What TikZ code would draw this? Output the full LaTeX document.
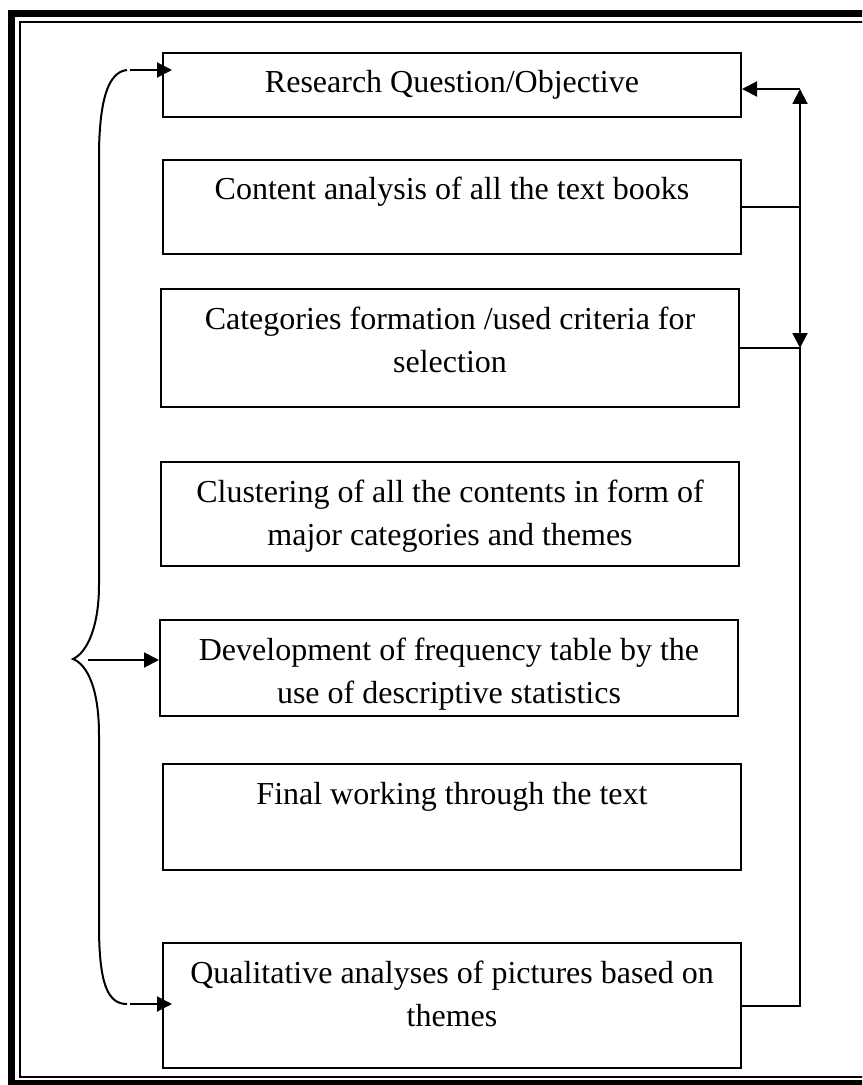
\documentclass[tikz,border=0pt]{standalone}
\usepackage{fontspec}
\setmainfont{Liberation Serif}
\usetikzlibrary{arrows.meta}
\begin{document}
\begin{tikzpicture}[x=0.5pt,y=-0.5pt]
\tikzset{
    stageBox/.style={rectangle,draw=black,line width=1pt,anchor=north,text width=280pt,inner xsep=4.5pt,inner ysep=0pt,align=flush center,text height=20pt,font=\fontsize{16}{21.5}\selectfont},
    stageArrow/.style={line width=1pt,-{Triangle[length=7.5pt,width=7.5pt]}},
    stageLink/.style={line width=1pt},
}
\useasboundingbox (0,0) rectangle (862,1085);
\clip (0,0) rectangle (862,1085);
\draw[line width=3.5pt] (11.5,13.5) rectangle (872,1083.5);
\draw[line width=1pt] (20,22) rectangle (864,1077);

\node[stageBox,text depth=12pt] (rq) at (452,52) {Research Question/Objective};
\node[stageBox,text depth=27pt] (ca) at (452,159) {Content analysis of all the text books};
\node[stageBox,text depth=39pt] (cf) at (450,288) {Categories formation /used criteria for\\ selection};
\node[stageBox,text depth=32pt] (cl) at (450,461) {Clustering of all the contents in form of\\ major categories and themes};
\node[stageBox,text depth=28pt] (df) at (449,619) {Development of frequency table by the\\ use of descriptive statistics};
\node[stageBox,text depth=33pt] (fw) at (452,763) {Final working through the text};
\node[stageBox,text depth=42.5pt] (qa) at (452,942) {Qualitative analyses of pictures based on\\ themes};

\coordinate (rTop) at (800,89);
\coordinate (rMid) at (rTop |- cf.east);
\coordinate (rBot) at (rTop |- qa.east);
\draw[stageArrow] (rTop) -- (rTop -| rq.east);
\draw[stageLink,{Triangle[length=7.5pt,width=7.5pt]}-{Triangle[length=7.5pt,width=7.5pt]}] (rMid) -- (rTop);
\draw[stageLink] (ca.east) -- (ca.east -| rTop);
\draw[stageLink] (cf.east) -- (rMid) -- (rBot) -- (qa.east);

\coordinate (bTop) at (127,70);
\coordinate (bTip) at (73,659);
\coordinate (bMid) at (88,660);
\coordinate (bBot) at (127,1004);
\draw[stageLink] (bTop) .. controls (108,72) and (100,100) .. (99,150) -- (99,585)
    .. controls (99,625) and (88,652) .. (bTip) .. controls (88,665) and (99,690) .. (99,735)
    -- (99,925) .. controls (99,985) and (108,1004) .. (bBot);
\draw[stageArrow,shorten >=-5pt] ([xshift=1.5pt]bTop) -- (bTop -| rq.west);
\draw[stageArrow] (bMid) -- (bMid -| df.west);
\draw[stageArrow,shorten >=-5pt] ([xshift=1.5pt]bBot) -- (bBot -| qa.west);
\end{tikzpicture}
\end{document}
